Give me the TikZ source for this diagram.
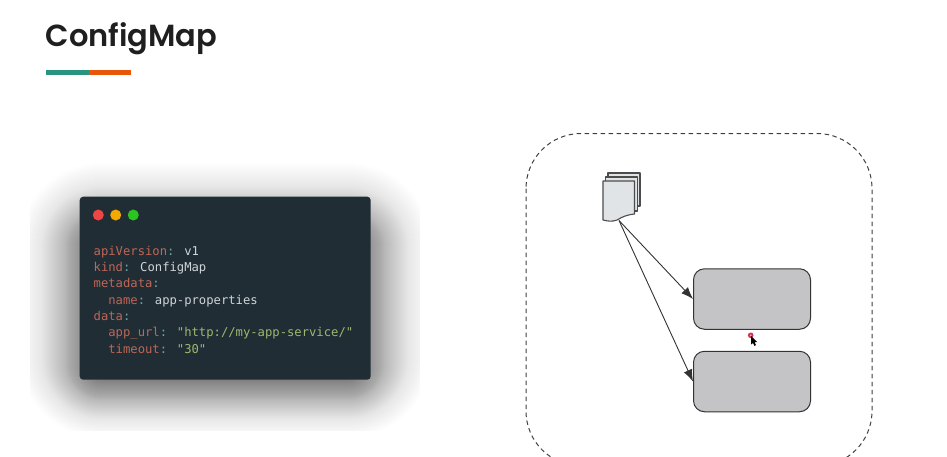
\documentclass[tikz,border=0pt]{standalone}
\usepackage{fontspec}
\setmainfont{Poppins}
\newfontfamily\titlefont{Poppins}[UprightFont=* SemiBold]
\newfontfamily\codefont{DejaVu Sans Mono}
\usetikzlibrary{arrows.meta}
\definecolor{codebg}{HTML}{202D35}
\definecolor{keyc}{HTML}{BF6656}
\definecolor{punc}{HTML}{6FA5A0}
\definecolor{valc}{HTML}{CFD5D8}
\definecolor{strc}{HTML}{9DB86F}
\definecolor{boxc}{HTML}{C4C3C5}
\definecolor{docc}{HTML}{E1E4E6}
\definecolor{linec}{HTML}{333333}
\definecolor{barteal}{HTML}{2B9480}
\definecolor{barorange}{HTML}{E8560A}
\definecolor{dotred}{HTML}{F04545}
\definecolor{dotamber}{HTML}{F5A800}
\definecolor{dotgreen}{HTML}{2CC520}
\definecolor{cursorred}{HTML}{D0304F}
\tikzset{
  x=1pt,y=-1pt,
  codeline/.style={anchor=base west,inner sep=0pt,font=\codefont\fontsize{12.2}{14}\selectfont,text=valc},
  podbox/.style={draw=linec,line width=1pt,fill=boxc,rounded corners=11pt,minimum width=117pt,minimum height=60.5pt,inner sep=0pt},
  sheet/.style={draw=black!70,line width=1.1pt,fill=docc,line join=round},
  link/.style={draw=linec,line width=0.9pt,-{Latex[length=12pt,width=9pt]}},
  dot/.style={circle,inner sep=0pt,minimum size=11pt}
}
\newcommand{\K}[1]{\textcolor{keyc}{#1}}
\newcommand{\Pu}[1]{\textcolor{punc}{#1}}
\newcommand{\St}[1]{\textcolor{strc}{#1}}
\begin{document}
\begin{tikzpicture}
\useasboundingbox (0,0) rectangle (947,456);
\fill[white] (0,0) rectangle (947,456);
% shadow
\begin{scope}
\clip (30,150) rectangle (420,430);
\foreach \d in {75,74,...,0}{
  \pgfmathsetmacro{\op}{0.0015+0.0125*(1-\d/75)}
  \pgfmathsetmacro{\rad}{12+\d}
  \fill[black,opacity=\op,rounded corners=\rad pt] (90-\d,235-\d) rectangle (360+\d,380+\d*0.8);
}
\end{scope}
% title
\node[anchor=base west,inner sep=0pt,font=\titlefont\fontsize{30.5}{36}\selectfont,text=black!88] (title) at (45.5,46) {ConfigMap};
\fill[barteal] (46,70) rectangle (89,75);
\fill[barorange] (89,70) rectangle (130.5,75);
% code card
\node[draw=none,fill=codebg,rounded corners=3.5pt,minimum width=291pt,minimum height=183pt,inner sep=0pt,anchor=north west] (card) at (79.5,196.5) {};
\node[dot,fill=dotred] (d1) at (98.3,215) {};
\node[dot,fill=dotamber] (d2) at (115.7,215) {};
\node[dot,fill=dotgreen] (d3) at (133.3,215) {};
\node[codeline] (l1) at (93.5,255) {\K{apiVersion}\Pu{:} v1};
\node[codeline] (l2) at (93.5,271.5) {\K{kind}\Pu{:} ConfigMap};
\node[codeline] (l3) at (93.5,287.5) {\K{metadata}\Pu{:}};
\node[codeline] (l4) at (93.5,304) {\ \ \K{name}\Pu{:} app-properties};
\node[codeline] (l5) at (93.5,320) {\K{data}\Pu{:}};
\node[codeline] (l6) at (93.5,336.5) {\ \ \K{app\_url}\Pu{:} \St{"http://my-app-service/"}};
\node[codeline] (l7) at (93.5,353) {\ \ \K{timeout}\Pu{:} \St{"30"}};
% dashed region
\begin{scope}
\clip (0,0) rectangle (947,456);
\draw[black!75,line width=1pt,dash pattern=on 4.5pt off 3.5pt,rounded corners=55pt] (526,133.5) rectangle (872,466);
\end{scope}
% document stack
\draw[sheet] (608,173) rectangle (640,206);
\draw[sheet] (605.5,177) rectangle (637.5,211);
\draw[sheet] (603,181) -- (634.5,181) -- (634.5,214) .. controls (626,215) and (622,217) .. (617,220) .. controls (612,222) and (607,221) .. (603,220) -- cycle;
\coordinate (doc) at (619,220.5);
% boxes
\node[podbox] (p1) at (752,299) {};
\node[podbox] (p2) at (752,381.5) {};
\draw[link] (doc) -- (p1.west);
\draw[link] (doc) -- (p2.west);
% cursor
\fill[cursorred] (750.7,335.3) circle (2.8pt);
\fill[white!70!cursorred] (750.7,335.3) circle (0.9pt);
\fill[black] (751,336) -- (751,344.5) -- (753,343) -- (754.5,346) -- (756,345) -- (754.6,342.3) -- (757,342) -- cycle;
\end{tikzpicture}
\end{document}
